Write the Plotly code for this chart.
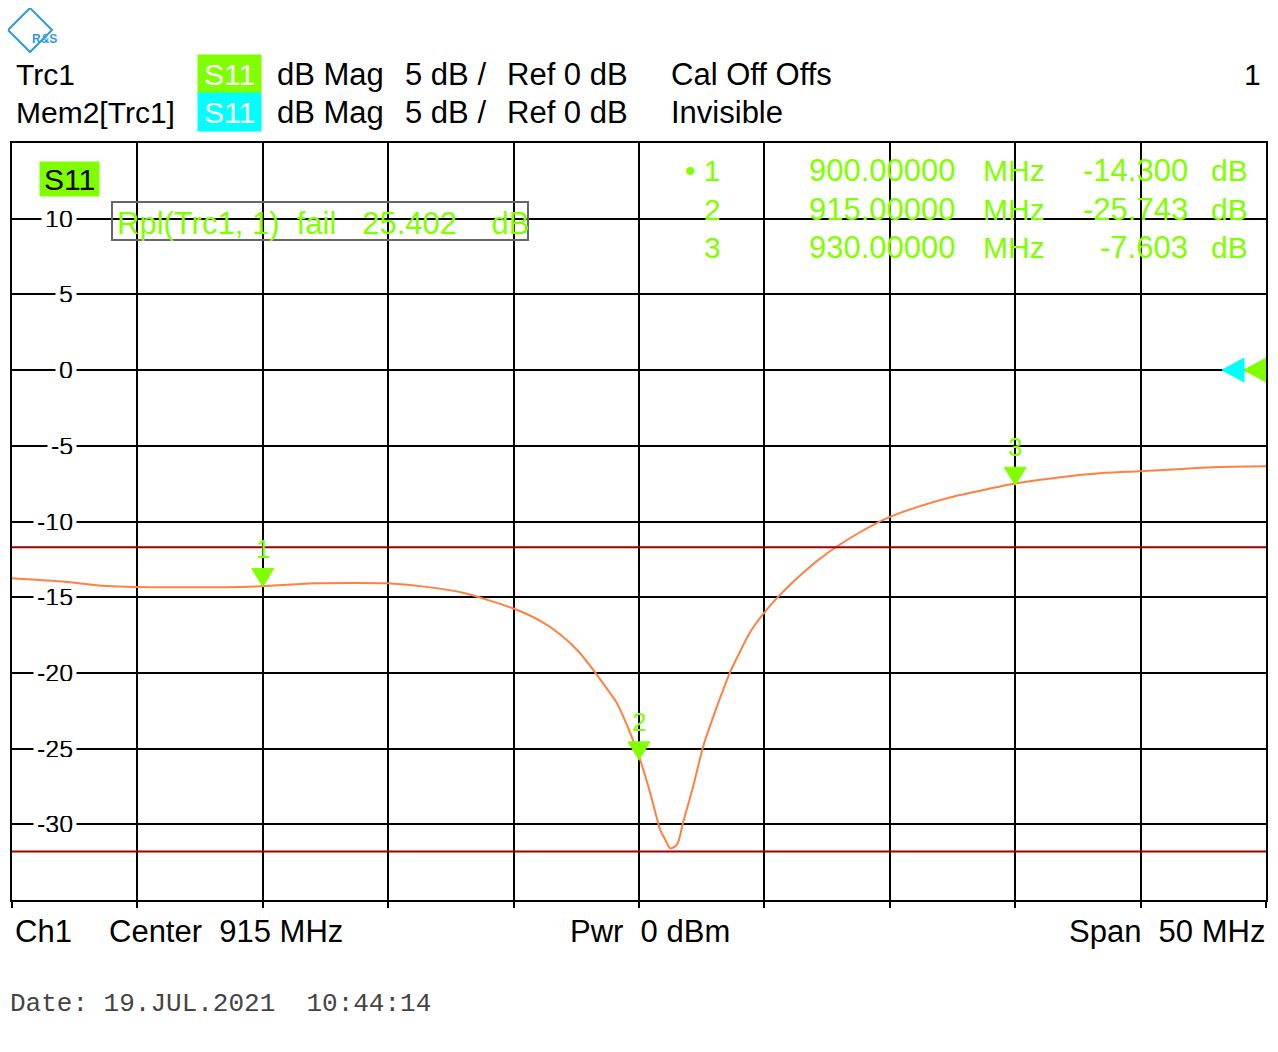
import plotly.graph_objects as go

# ---------------- data ----------------
freq_mhz = [890.0, 892.11, 893.59, 896.02, 899.93, 902.04, 904.95, 906.90, 908.06,
            909.97, 911.05, 911.85, 912.57, 913.16, 913.64, 914.12, 914.64, 915.04,
            915.44, 915.84, 916.04, 916.24, 916.44, 916.56, 916.76, 917.16, 917.56,
            918.11, 918.63, 919.43, 919.94, 920.62, 921.30, 921.74, 922.14, 922.89,
            923.81, 924.89, 926.08, 927.28, 928.87, 930.03, 931.79, 933.38, 934.98,
            937.89, 940.0]
s11_db = [-13.75, -13.98, -14.24, -14.34, -14.28, -14.08, -14.08, -14.40, -14.74,
          -15.73, -16.55, -17.45, -18.55, -19.76, -20.86, -22.00, -23.93, -25.71,
          -27.89, -30.34, -31.00, -31.59, -31.46, -31.20, -29.87, -27.50, -24.85,
          -22.21, -19.96, -17.32, -16.13, -14.85, -13.75, -13.10, -12.55, -11.65,
          -10.71, -9.78, -9.05, -8.46, -7.87, -7.47, -7.07, -6.81, -6.68,
          -6.41, -6.35]

marker_ids = ["1", "2", "3"]
marker_freq = [900.0, 915.0, 930.0]
marker_val = [-14.300, -25.743, -7.603]
marker_freq_txt = ["900.00000", "915.00000", "930.00000"]
marker_val_txt = ["-14.300", "-25.743", "-7.603"]

limit_upper = -11.7
limit_lower = -31.8
ref_level = 0

y_ticks = [10, 5, 0, -5, -10, -15, -20, -25, -30]

# ---------------- geometry helpers ----------------
OFF = 8  # page body margin
W, H = 1278 - OFF, 1052 - OFF
L, R, T, B = 12 - OFF, 1266 - OFF, 143 - OFF, 900 - OFF


def px(x):
    return (x - OFF - L) / (R - L)


def py(y):
    return (B - (y - OFF)) / (B - T)


GREEN = "#80FF00"
CYAN = "#00FFFF"
ORANGE = "#FF8040"
FONT = "Liberation Sans"

fig = go.Figure()

fig.add_trace(go.Scatter(x=freq_mhz, y=s11_db, mode="lines",
                         line=dict(color=ORANGE, width=2, shape="spline", smoothing=0.6),
                         hoverinfo="skip", showlegend=False))

shapes = []
annotations = []

# limit lines
for lv in (limit_upper, limit_lower):
    shapes.append(dict(type="line", xref="paper", yref="y", x0=0, x1=1, y0=lv, y1=lv,
                       line=dict(color="#A00000", width=2)))

# markers (triangles + numbers)
for mid, mf, mv in zip(marker_ids, marker_freq, marker_val):
    shapes.append(dict(type="path", xref="x", yref="y", xsizemode="pixel", ysizemode="pixel",
                       xanchor=mf, yanchor=mv, path="M -11 18 L 11 18 L 0 0 Z",
                       fillcolor=GREEN, line=dict(color=GREEN, width=1)))
    annotations.append(dict(x=mf, y=mv, xref="x", yref="y", text=mid, showarrow=False,
                            yshift=38, font=dict(family=FONT, size=26, color=GREEN)))

# reference level triangles on the right
shapes.append(dict(type="path", xref="x", yref="y", xsizemode="pixel", ysizemode="pixel",
                   xanchor=940, yanchor=ref_level, path="M -44 0 L -22 12 L -22 -12 Z",
                   fillcolor=CYAN, line=dict(color=CYAN, width=1)))
shapes.append(dict(type="path", xref="x", yref="y", xsizemode="pixel", ysizemode="pixel",
                   xanchor=940, yanchor=ref_level, path="M -22 0 L 0 12 L 0 -12 Z",
                   fillcolor=GREEN, line=dict(color=GREEN, width=1)))

# y tick labels with white background inside the plot
for v in y_ticks:
    annotations.append(dict(x=px(77), y=v, xref="paper", yref="y", text=str(v),
                            showarrow=False, xanchor="right", yanchor="middle",
                            bgcolor="white", borderpad=3, height=16,
                            font=dict(family=FONT, size=25, color="black")))

# ripple limit box
shapes.append(dict(type="rect", xref="paper", yref="paper", x0=px(112), x1=px(528),
                   y0=py(240), y1=py(202), line=dict(color="#666666", width=2)))
annotations.append(dict(x=px(115), y=py(223), xref="paper", yref="paper",
                        text="Rpl(Trc1, 1)  fail   25.402    dB", showarrow=False,
                        xanchor="left", yanchor="middle",
                        font=dict(family=FONT, size=31, color=GREEN)))

# S11 label inside plot
annotations.append(dict(x=px(39), y=py(179), xref="paper", yref="paper", text="S11",
                        showarrow=False, xanchor="left", yanchor="middle",
                        bgcolor=GREEN, width=59, height=34, borderpad=0,
                        font=dict(family=FONT, size=30, color="black")))

# marker table
rows_y = [171, 209, 247]
for i, (mid, ftxt, vtxt) in enumerate(zip(marker_ids, marker_freq_txt, marker_val_txt)):
    yy = py(rows_y[i])
    label = ("\u2022 " + mid) if i == 0 else mid
    annotations.append(dict(x=px(723), y=yy, xref="paper", yref="paper", text=label,
                            showarrow=False, xanchor="right", yanchor="middle",
                            font=dict(family=FONT, size=30, color=GREEN)))
    annotations.append(dict(x=px(958), y=yy, xref="paper", yref="paper", text=ftxt,
                            showarrow=False, xanchor="right", yanchor="middle",
                            font=dict(family=FONT, size=31, color=GREEN)))
    annotations.append(dict(x=px(981), y=yy, xref="paper", yref="paper", text="MHz",
                            showarrow=False, xanchor="left", yanchor="middle",
                            font=dict(family=FONT, size=30, color=GREEN)))
    annotations.append(dict(x=px(1190), y=yy, xref="paper", yref="paper", text=vtxt,
                            showarrow=False, xanchor="right", yanchor="middle",
                            font=dict(family=FONT, size=31, color=GREEN)))
    annotations.append(dict(x=px(1209), y=yy, xref="paper", yref="paper", text="dB",
                            showarrow=False, xanchor="left", yanchor="middle",
                            font=dict(family=FONT, size=30, color=GREEN)))

# header
def hdr(x, y, text, anchor="left", color="black", size=30):
    annotations.append(dict(x=px(x), y=py(y), xref="paper", yref="paper", text=text,
                            showarrow=False, xanchor=anchor, yanchor="middle",
                            font=dict(family=FONT, size=size, color=color)))

hdr(14, 75, "Trc1")
hdr(14, 113, "Mem2[Trc1]")
annotations.append(dict(x=px(197), y=py(74), xref="paper", yref="paper", text="S11",
                        showarrow=False, xanchor="left", yanchor="middle",
                        bgcolor=GREEN, width=63, height=38, borderpad=0,
                        font=dict(family=FONT, size=30, color="white")))
annotations.append(dict(x=px(197), y=py(112), xref="paper", yref="paper", text="S11",
                        showarrow=False, xanchor="left", yanchor="middle",
                        bgcolor=CYAN, width=63, height=38, borderpad=0,
                        font=dict(family=FONT, size=30, color="white")))
for yy in (75, 113):
    hdr(275, yy, "dB Mag", size=31)
    hdr(403, yy, "5 dB /", size=31)
    hdr(505, yy, "Ref 0 dB", size=31)
hdr(669, 75, "Cal Off Offs", size=31)
hdr(669, 113, "Invisible", size=31)
hdr(1263, 75, "1", anchor="right")

# footer
hdr(13, 931, "Ch1", size=31)
hdr(107, 931, "Center  915 MHz", size=31)
hdr(568, 931, "Pwr  0 dBm", size=31)
hdr(1267, 931, "Span  50 MHz", anchor="right", size=31)

annotations.append(dict(x=px(8), y=py(1004), xref="paper", yref="paper",
                        text="Date: 19.JUL.2021  10:44:14", showarrow=False,
                        xanchor="left", yanchor="middle",
                        font=dict(family="Liberation Mono", size=26, color="#444444")))

# logo (simple diamond)
shapes.append(dict(type="path", xref="paper", yref="paper",
                   path=f"M {px(8)} {py(30)} L {px(30)} {py(8)} L {px(52)} {py(30)} L {px(30)} {py(52)} Z",
                   line=dict(color="#2E9BE0", width=2)))
annotations.append(dict(x=px(30), y=py(30), xref="paper", yref="paper", text="<b>R&amp;S</b>",
                        showarrow=False, font=dict(family=FONT, size=12, color="#2E9BE0")))

fig.update_layout(
    width=W, height=H,
    margin=dict(l=L, r=W - R, t=T, b=H - B, pad=0),
    paper_bgcolor="white", plot_bgcolor="white",
    showlegend=False,
    shapes=shapes, annotations=annotations,
    xaxis=dict(range=[890, 940], dtick=5, tick0=890, showgrid=True, gridcolor="black",
               gridwidth=2, showticklabels=False, ticks="outside", ticklen=6,
               tickwidth=2, tickcolor="black", showline=True, mirror=True,
               linecolor="black", linewidth=2, zeroline=False, fixedrange=True),
    yaxis=dict(range=[-35, 15], dtick=5, tick0=0, showgrid=True, gridcolor="black",
               gridwidth=2, showticklabels=False, showline=True, mirror=True,
               linecolor="black", linewidth=2, zeroline=False, fixedrange=True),
)

fig.write_html("out.html")
